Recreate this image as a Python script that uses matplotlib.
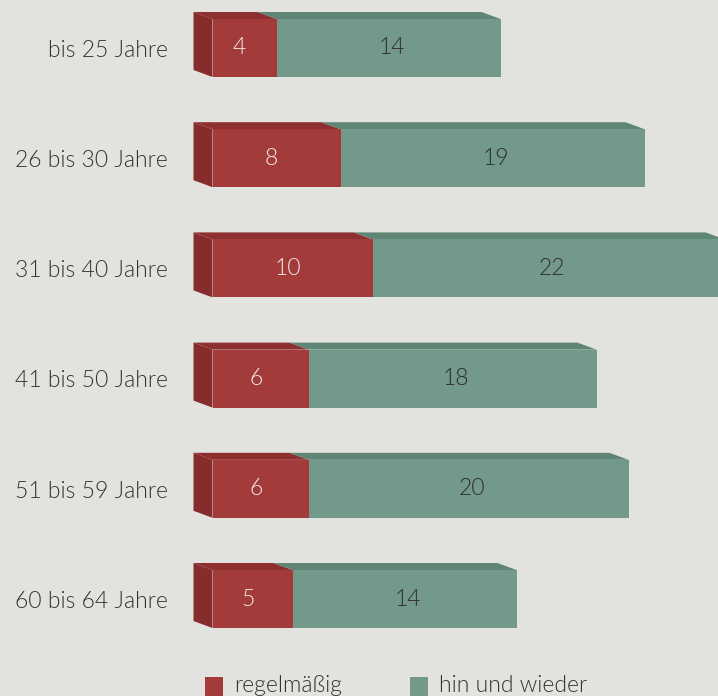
import matplotlib.pyplot as plt
from matplotlib.patches import Polygon, Rectangle

# data
categories = ['bis 25 Jahre', '26 bis 30 Jahre', '31 bis 40 Jahre',
              '41 bis 50 Jahre', '51 bis 59 Jahre', '60 bis 64 Jahre']
regelmaessig = [4, 8, 10, 6, 6, 5]
hin_und_wieder = [14, 19, 22, 18, 20, 14]
series_names = ['regelmäßig', 'hin und wieder']

# colours
bg = '#e2e3df'
red_front, red_top, red_side = '#a23b3a', '#8e302f', '#872c2c'
green_front, green_top = '#73998a', '#5f8576'
text_col = '#333333'
fs = 16.5
fw = 300

plt.rcParams['font.family'] = ['Lato', 'DejaVu Sans']

W, H = 718, 696
fig = plt.figure(figsize=(W / 100, H / 100), dpi=100, facecolor=bg)

# axes: x=0 at px 212.5, 16 px per unit; rows 110.2 px apart, first at px 48
px_unit = 16.0
row_px = 110.2
x_left = 212.5
ax_w_units = 40
ax = fig.add_axes([x_left / W, 0, ax_w_units * px_unit / W, 1])
ax.set_facecolor(bg)
ax.set_xlim(0, ax_w_units)
ax.set_ylim((H - 48) / row_px, -48 / row_px)
ax.axis('off')

bar_h = 58 / row_px
dx = -19 / px_unit      # depth offset (back is left and up)
dy = -7 / row_px

ys = list(range(len(categories)))

ax.barh(ys, regelmaessig, height=bar_h, color=red_front, zorder=3)
ax.barh(ys, hin_und_wieder, left=regelmaessig, height=bar_h, color=green_front, zorder=3)

for y, r, g in zip(ys, regelmaessig, hin_und_wieder):
    top = y - bar_h / 2
    bot = y + bar_h / 2
    # left side face
    ax.add_patch(Polygon([(0, top), (0, bot), (dx, bot + dy), (dx, top + dy)],
                         closed=True, facecolor=red_side, edgecolor='none',
                         zorder=2, clip_on=False))
    # top faces
    for x0, x1, c in [(0, r, red_top), (r, r + g, green_top)]:
        ax.add_patch(Polygon([(x0, top), (x1, top), (x1 + dx, top + dy), (x0 + dx, top + dy)],
                             closed=True, facecolor=c, edgecolor='none',
                             zorder=2, clip_on=False))
    # value labels
    ax.text(r / 2 - 0.3, y, str(r), ha='center', va='center', color='#f3eaea',
            fontsize=fs, fontweight=fw, zorder=4)
    ax.text(r + g / 2 + 0.2, y, str(g), ha='center', va='center', color='#2e2e2e',
            fontsize=fs, fontweight=fw, zorder=4)
    # category labels
    ax.text(-2.8, y + 0.02, categories[y], ha='right', va='center', color=text_col,
            fontsize=fs, fontweight=fw, clip_on=False)

# legend
for lx, c, name in [(205, red_front, series_names[0]), (410, green_front, series_names[1])]:
    fig.add_artist(Rectangle((lx / W, (H - 696) / H), 18 / W, 19 / H,
                             transform=fig.transFigure, facecolor=c, edgecolor='none'))
    fig.text((lx + 29) / W, (H - 686) / H, name, ha='left', va='center',
             color=text_col, fontsize=fs, fontweight=fw)

fig.savefig('out.png', dpi=100, facecolor=bg)
